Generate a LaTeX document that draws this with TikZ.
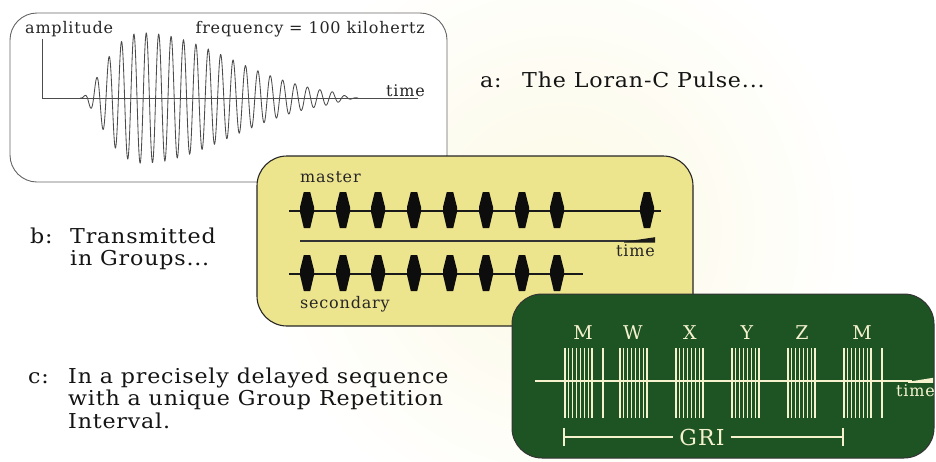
\documentclass[tikz,border=0pt]{standalone}
\usepackage{fontspec}
\setmainfont{DejaVu Serif}
\newfontfamily\capfont[LetterSpace=4,FakeStretch=1.08]{DejaVu Serif}
\newfontfamily\smfont[LetterSpace=5]{DejaVu Serif}
\definecolor{boxyellow}{RGB}{237,228,142}
\definecolor{boxgreen}{RGB}{30,84,36}
\definecolor{pulsewhite}{RGB}{245,242,205}
\definecolor{cream}{RGB}{252,249,228}
\definecolor{wavegray}{RGB}{75,75,75}
\begin{document}
\begin{tikzpicture}[x=1pt,y=-1pt,
  declare function={env(\u)=((\u<142)*65*((\u-80)/62)^2*exp(2*(1-(\u-80)/62)) + (\u>=142)*65*exp(-((\u-142)/124)^2))*((\u<333)+(\u>=333)*(358-\u)/25);},
  caption/.style={font=\capfont\fontsize{20.5}{22}\selectfont, text=black!92, inner sep=0, anchor=base west},
  smalltxt/.style={font=\smfont\fontsize{16}{18}\selectfont, text=black!85, inner sep=0},
  greentxt/.style={font=\smfont\fontsize{19}{20}\selectfont, text=pulsewhite, inner sep=0},
  wave/.style={draw=wavegray, line width=0.85pt},
  axisline/.style={draw=black!70, line width=0.9pt},
  gline/.style={draw=pulsewhite, line width=1.2pt},
  bpulse/.style={fill=black!95}
]
\useasboundingbox (0,0) rectangle (936,461);
\fill[white] (0,0) rectangle (936,461);
\shade[inner color=cream, outer color=white] (560,230) circle (300);

% ---------- box a ----------
\draw[draw=black!60, fill=white, line width=0.9pt, rounded corners=27] (10,13) rectangle (447,182);
\coordinate (ay) at (42,39);
\coordinate (ao) at (42,98);
\coordinate (ax) at (418,98);
\draw[axisline] (ay) -- (ao) -- (ax);
\draw[wave] plot[domain=80:358, samples=1000, variable=\x] (\x, {98 - env(\x)*cos(29.0323*(\x-96.7))});
\node[smalltxt, anchor=base west] (amp) at (25,33) {amplitude};
\node[smalltxt, anchor=base east] (freq) at (425,33) {frequency = 100 kilohertz};
\node[smalltxt, anchor=base east] (atime) at (425,96) {time};

\node[caption] (alab) at (480,87) {a:};
\node[caption] (atxt) at (522,87) {The Loran-C Pulse...};

% ---------- box b ----------
\draw[draw=black!85, fill=boxyellow, line width=1.1pt, rounded corners=30] (257,156) rectangle (693,326);
\coordinate (m0) at (289,211);
\coordinate (m1) at (661,211);
\draw[line width=1.6pt, black!90] (m0) -- (m1);
\foreach \px in {307,343,378,414,450,486,522,557,647}
  \fill[bpulse, shift={(\px,211)}] (-3.2,-19) -- (3.2,-19) -- (7,-4) -- (7,1) -- (3.2,17) -- (-3.2,17) -- (-7,1) -- (-7,-4) -- cycle;
\coordinate (s0) at (289,274);
\coordinate (s1) at (583,274);
\draw[line width=1.6pt, black!90] (s0) -- (s1);
\foreach \px in {307,343,378,414,450,486,522,557}
  \fill[bpulse, shift={(\px,274)}] (-3.2,-19) -- (3.2,-19) -- (7,-4) -- (7,1) -- (3.2,17) -- (-3.2,17) -- (-7,1) -- (-7,-4) -- cycle;
\coordinate (t0) at (300,241);
\coordinate (t1) at (655,241);
\draw[line width=1.2pt, black!80] (t0) -- (t1);
\fill[black!90] (624,241.8) -- (655,237.2) -- (655,242.6) -- (624,242.6) -- cycle;
\node[smalltxt, anchor=base west] (master) at (300,182) {master};
\node[smalltxt, anchor=base west] (secondary) at (300,308) {secondary};
\node[smalltxt, anchor=base west] (btime) at (616,256) {time};

\node[caption] (blab) at (30,243) {b:};
\node[caption] (btxt1) at (70,243) {Transmitted};
\node[caption] (btxt2) at (70,265) {in Groups...};

% ---------- box c ----------
\draw[draw=black!80, fill=boxgreen, line width=1pt, rounded corners=30] (512,294) rectangle (934,458);
\coordinate (g0) at (535,381);
\coordinate (g1) at (912,381);
\draw[line width=1.2pt, pulsewhite] (g0) -- (g1);
\fill[pulsewhite] (908,381.8) -- (933,377.8) -- (933,382.8) -- (908,382.8) -- cycle;
\foreach \g in {565,620,676,732,788,844}
  \foreach \i in {0,...,7}
    \draw[gline] ({\g+\i*3.85},348) -- ({\g+\i*3.85},418);
\draw[gline] (603,348) -- (603,418);
\draw[gline] (882,348) -- (882,418);
\foreach \lab/\lx [count=\k] in {M/583,W/633,X/690,Y/747,Z/802,M/862}
  \node[greentxt] (lab\k) at (\lx,333) {\lab};
\node[greentxt, font=\smfont\fontsize{16}{18}\selectfont, anchor=base west] (gtime) at (896,396) {time};
\node[greentxt, font=\smfont\fontsize{22}{24}\selectfont] (gri) at (702,437) {GRI};
\coordinate (gl) at (564,437);
\coordinate (gr) at (843,437);
\draw[line width=1.3pt, pulsewhite] (gl) -- ([xshift=-6pt]gri.west);
\draw[line width=1.3pt, pulsewhite] ([xshift=6pt]gri.east) -- (gr);
\draw[line width=1.3pt, pulsewhite] (564,428) -- (564,446);
\draw[line width=1.3pt, pulsewhite] (843,428) -- (843,446);

\node[caption] (clab) at (28,383) {c:};
\node[caption] (ctxt1) at (68,383) {In a precisely delayed sequence};
\node[caption] (ctxt2) at (68,405) {with a unique Group Repetition};
\node[caption] (ctxt3) at (68,428) {Interval.};
\end{tikzpicture}
\end{document}
